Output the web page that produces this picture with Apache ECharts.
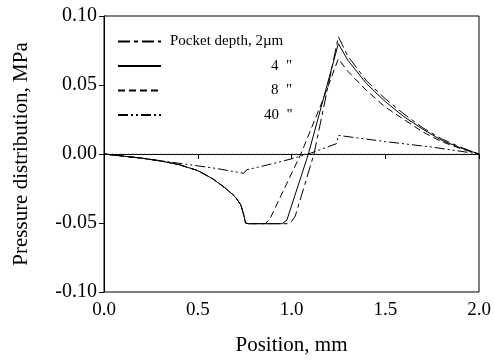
<!DOCTYPE html>
<html>
<head>
<meta charset="utf-8">
<script src="https://cdn.jsdelivr.net/npm/echarts@6/dist/echarts.min.js"></script>
<style>
    html, body { margin: 0; padding: 0; background: #fff; }
    #chart { width: 495px; height: 364px; }
</style>
</head>
<body>
<div id="chart"></div>
<script>
// legend labels
var names = ["Pocket depth, 2\u00b5m", "4", "8", "40"];

// 2 um pocket
var pos2 = [0, 0.1, 0.2, 0.3, 0.4, 0.5, 0.58, 0.65, 0.7, 0.73, 0.745, 0.755, 0.77, 0.98, 1.0, 1.02, 1.12, 1.19, 1.25, 1.3, 1.4, 1.5, 1.6, 1.7, 1.8, 1.9, 2.0];
var p2   = [0, -0.0015, -0.003, -0.005, -0.0077, -0.012, -0.018, -0.025, -0.031, -0.037, -0.044, -0.05, -0.0505, -0.0505, -0.049, -0.045, 0, 0.046, 0.085, 0.071, 0.053, 0.040, 0.029, 0.019, 0.011, 0.005, 0];

// 4 um pocket
var pos4 = [0, 0.1, 0.2, 0.3, 0.4, 0.5, 0.58, 0.65, 0.7, 0.73, 0.745, 0.755, 0.77, 0.95, 0.975, 1.09, 1.18, 1.25, 1.3, 1.4, 1.5, 1.6, 1.7, 1.8, 1.9, 2.0];
var p4   = [0, -0.0015, -0.003, -0.005, -0.0077, -0.012, -0.018, -0.025, -0.031, -0.037, -0.044, -0.05, -0.0505, -0.0505, -0.048, 0, 0.045, 0.080, 0.068, 0.051, 0.038, 0.027, 0.018, 0.010, 0.0045, 0];

// 8 um pocket
var pos8 = [0, 0.1, 0.2, 0.3, 0.4, 0.5, 0.58, 0.65, 0.7, 0.73, 0.745, 0.755, 0.77, 0.86, 0.885, 1.05, 1.17, 1.25, 1.3, 1.4, 1.5, 1.6, 1.7, 1.8, 1.9, 2.0];
var p8   = [0, -0.0015, -0.003, -0.005, -0.0077, -0.012, -0.018, -0.025, -0.031, -0.037, -0.044, -0.05, -0.0505, -0.0505, -0.047, 0, 0.040, 0.069, 0.060, 0.046, 0.034, 0.025, 0.016, 0.009, 0.004, 0];

// 40 um pocket
var pos40 = [0, 0.2, 0.4, 0.6, 0.745, 0.76, 0.9, 1.0, 1.1, 1.2, 1.24, 1.25, 1.5, 1.75, 2.0];
var p40   = [0, -0.003, -0.0067, -0.0105, -0.014, -0.0115, -0.007, -0.0035, 0.0005, 0.0055, 0.0075, 0.0135, 0.009, 0.005, 0];

// dotted zero reference
var zeroPos = [0, 2.0];
var zeroP   = [0, 0];

var xTicks = [0, 0.5, 1.0, 1.5, 2.0];
var yTicks = [-0.10, -0.05, 0.00, 0.05, 0.10];

var font = "Liberation Serif";

function pairs(xs, ys) {
    var out = [];
    for (var i = 0; i < xs.length; i++) {
        out.push([xs[i], ys[i]]);
    }
    return out;
}

function lineSeries(name, xs, ys, dash, color) {
    return {
        name: name,
        type: "line",
        data: pairs(xs, ys),
        symbol: "none",
        silent: true,
        itemStyle: { color: "#000" },
        lineStyle: { color: color || "#000", width: 1, type: dash }
    };
}

var chart = echarts.init(document.getElementById("chart"));

var series = [
    lineSeries("zero", zeroPos, zeroP, [1, 3], "#666"),
    lineSeries(names[0], pos2, p2, [12, 4, 4, 4]),
    lineSeries(names[1], pos4, p4, "solid"),
    lineSeries(names[2], pos8, p8, [7, 4]),
    lineSeries(names[3], pos40, p40, [10, 3, 2, 3, 2, 3])
];

chart.setOption({
    animation: false,
    textStyle: { fontFamily: font },
    grid: {
        left: 104, right: 16, top: 16, bottom: 72,
        show: true, borderColor: "#000", borderWidth: 1
    },
    legend: {
        orient: "vertical",
        left: 117,
        top: 34,
        padding: 0,
        itemWidth: 43,
        itemHeight: 14,
        itemGap: 9.5,
        data: names,
        itemStyle: { opacity: 0 },
        formatter: function(name) {
            if (name === names[0]) return "{p|" + name + "}";
            if (name === "40") return "{b|" + name + "}{q|  \"}";
            return "{a|" + name + "}{q|  \"}";
        },
        textStyle: {
            fontFamily: font,
            fontSize: 15,
            color: "#000",
            rich: {
                p: { padding: [0, 0, 0, 4], fontFamily: font, fontSize: 15, color: "#000" },
                a: { padding: [0, 0, 0, 105], fontFamily: font, fontSize: 15, color: "#000" },
                b: { padding: [0, 0, 0, 98], fontFamily: font, fontSize: 15, color: "#000" },
                q: { fontFamily: font, fontSize: 15, color: "#000" }
            }
        }
    },
    xAxis: {
        type: "value",
        min: xTicks[0],
        max: xTicks[xTicks.length - 1],
        interval: 0.5,
        name: "Position, mm",
        nameLocation: "middle",
        nameGap: 43,
        nameTextStyle: { fontFamily: font, fontSize: 21, color: "#000" },
        axisLine: { lineStyle: { color: "#000", width: 1 } },
        axisTick: { length: 5, lineStyle: { color: "#000" } },
        axisLabel: {
            fontFamily: font, fontSize: 19, color: "#000", margin: 9,
            formatter: function(v) { return v.toFixed(1); }
        },
        splitLine: { show: false }
    },
    yAxis: {
        type: "value",
        min: yTicks[0],
        max: yTicks[yTicks.length - 1],
        interval: 0.05,
        name: "Pressure distribution, MPa",
        nameLocation: "middle",
        nameGap: 72,
        nameTextStyle: { fontFamily: font, fontSize: 21, color: "#000" },
        axisLine: { lineStyle: { color: "#000", width: 1 } },
        axisTick: { length: 5, lineStyle: { color: "#000" } },
        axisLabel: {
            fontFamily: font, fontSize: 20, color: "#000", margin: 7,
            formatter: function(v) { return v.toFixed(2); }
        },
        splitLine: { show: false }
    },
    series: series
});
</script>
</body>
</html>
